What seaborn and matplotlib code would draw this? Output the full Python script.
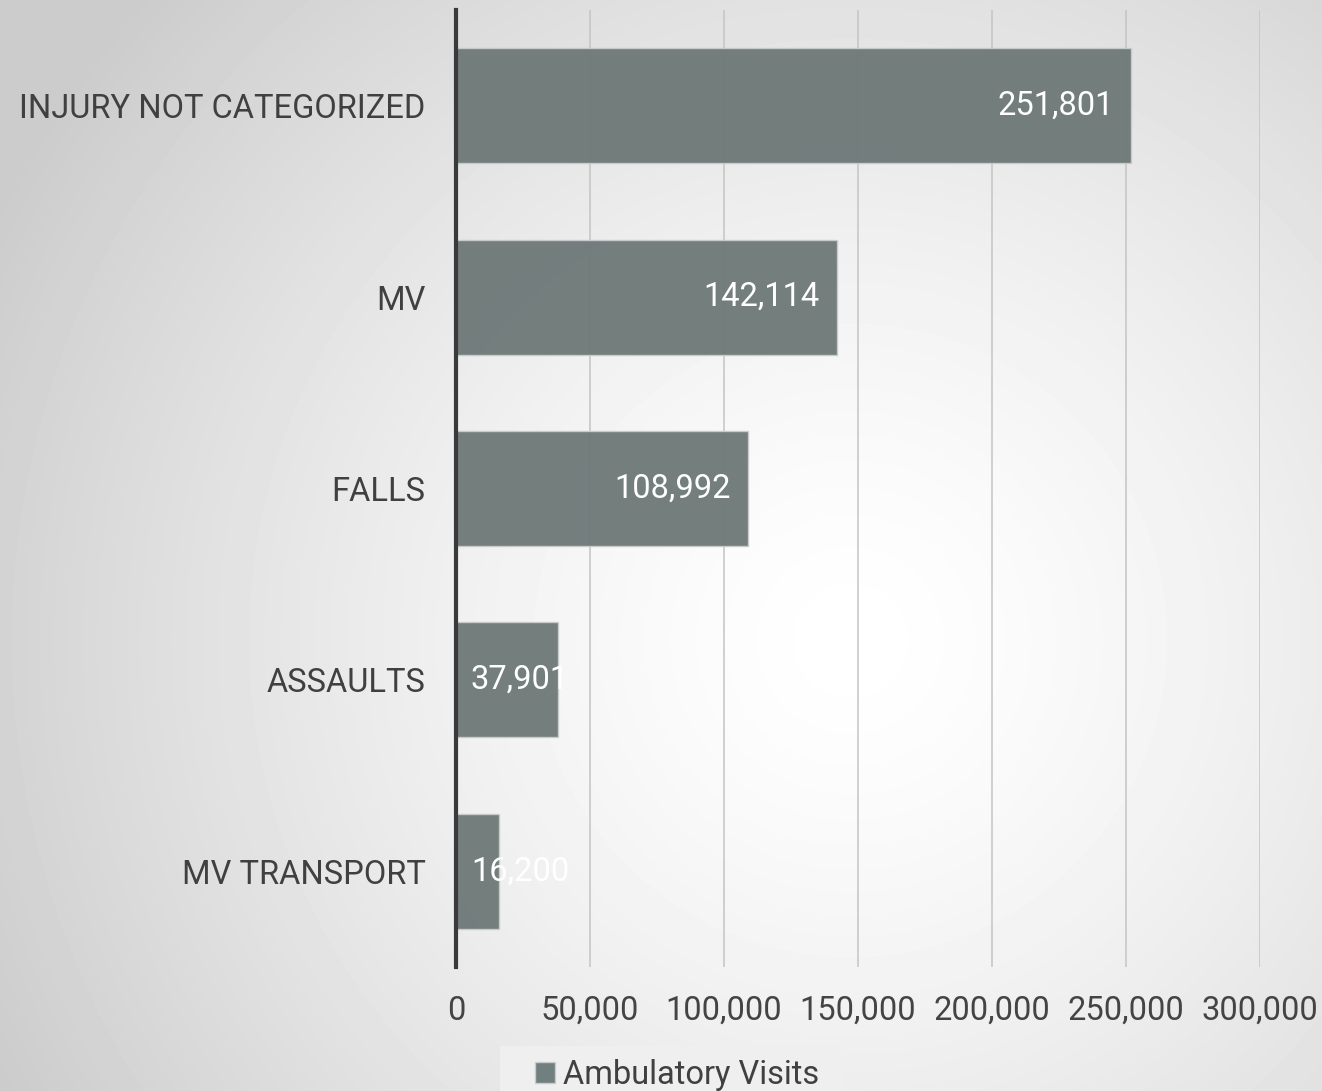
import numpy as np
import pandas as pd
import matplotlib
matplotlib.use("Agg")
import matplotlib.pyplot as plt
import seaborn as sns
from matplotlib.patches import Patch, Rectangle
from matplotlib.transforms import offset_copy

categories = ["INJURY NOT CATEGORIZED", "MV", "FALLS", "ASSAULTS", "MV TRANSPORT"]
visits = [251801, 142114, 108992, 37901, 16200]
series_name = "Ambulatory Visits"
xticks = [0, 50000, 100000, 150000, 200000, 250000, 300000]

df = pd.DataFrame({"category": categories, "visits": visits})

sns.set_theme(style="white")
plt.rcParams["font.family"] = ["Roboto", "DejaVu Sans"]
plt.rcParams["font.weight"] = "normal"

W, H = 1322, 1091
fig = plt.figure(figsize=(W / 100, H / 100), dpi=100)

# radial gradient background
bg = fig.add_axes([0, 0, 1, 1], zorder=-10)
yy, xx = np.mgrid[0:H, 0:W]
cx, cy = 850, 640
r = np.sqrt((xx - cx) ** 2 + (yy - cy) ** 2)
rn = np.clip(r / 950.0, 0, 1)
val = 1.0 - 0.20 * rn ** 1.4
bg.imshow(val, cmap="gray", vmin=0, vmax=1, aspect="auto", extent=[0, W, H, 0])
bg.axis("off")

ax = fig.add_axes([456 / W, 1 - 967 / H, (1260 - 456) / W, (967 - 10) / H])
ax.patch.set_alpha(0)

bar_color = "#6d7c7b"
sns.barplot(data=df, y="category", x="visits", orient="h", color=bar_color,
            width=0.6, ax=ax, zorder=3, alpha=0.97, edgecolor="#c8cccc", linewidth=1.0)

ax.set_xlim(0, 300000)
ax.set_xticks(xticks)
ax.set_xticklabels([f"{t:,}" for t in xticks], color="#444444", fontsize=23.5)
ax.tick_params(axis="x", length=0, pad=20)
ax.tick_params(axis="y", length=0, pad=22, labelsize=23.5, labelcolor="#404040")
ax.set_xlabel("")
ax.set_ylabel("")
ax.grid(axis="x", color="#c4c4c4", linewidth=1.1, zorder=0)
ax.set_axisbelow(True)
for s in ["top", "right", "bottom"]:
    ax.spines[s].set_visible(False)
ax.spines["left"].set_color("#3a3a3a")
ax.spines["left"].set_linewidth(3)
ax.spines["left"].set_zorder(5)

right_tr = offset_copy(ax.transData, fig=fig, x=-17, y=0, units="dots")
left_tr = offset_copy(ax.transData, fig=fig, x=15, y=0, units="dots")
for i, v in enumerate(visits):
    if v > 60000:
        ax.text(v, i, f"{v:,}", transform=right_tr, ha="right", va="center",
                color="white", fontsize=23.5, zorder=6)
    else:
        ax.text(0, i, f"{v:,}", transform=left_tr, ha="left", va="center",
                color="white", fontsize=23.5, zorder=6)

# legend box background
fig.patches.append(Rectangle((500 / W, 0), (842 - 500) / W, (H - 1046) / H,
                             transform=fig.transFigure, facecolor="#efefef",
                             edgecolor="none", zorder=1))
handle = Patch(facecolor=bar_color, edgecolor="#c8cccc", alpha=0.97)
leg = fig.legend([handle], [series_name], loc="center",
                 bbox_to_anchor=(677 / W, 1 - 1075 / H), fontsize=23.5, frameon=False,
                 handlelength=0.6, handleheight=0.6, handletextpad=0.25,
                 borderpad=0, borderaxespad=0)
for t in leg.get_texts():
    t.set_color("#404040")

fig.savefig("out.png", dpi=100)
